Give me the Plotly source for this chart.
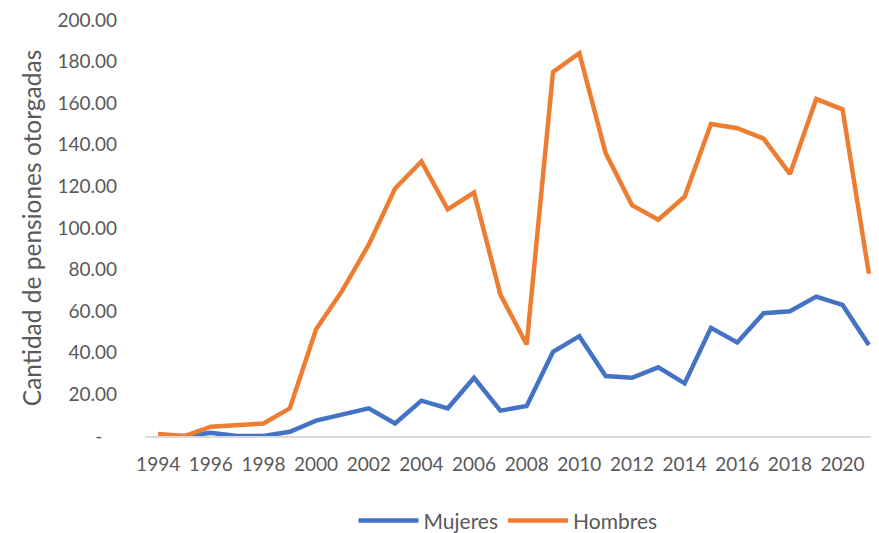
import plotly.graph_objects as go

years = list(range(1994, 2022))
mujeres = [0, 0, 1.5, 0, 0, 2, 7.4, 10.5, 13.3, 6, 17, 13.3, 28, 12.2, 14.4,
           40.5, 48, 28.8, 28, 33, 25.3, 52, 45, 59, 60, 67, 63, 43.8]
hombres = [1, 0, 4.5, 5.3, 6, 13.3, 51.3, 70, 92, 119, 132, 109, 117, 68, 44,
           175, 184, 136, 111, 104, 115, 150, 148, 143, 126, 162, 157, 78]

x_ticks = list(range(1994, 2021, 2))
y_ticks = list(range(0, 201, 20))
y_text = ["-\u00a0\u00a0\u00a0"] + [f"{v:.2f}" for v in y_ticks[1:]]

FONT = "Lato, 'Open Sans', sans-serif"
GREY = "#595959"

fig = go.Figure()
fig.add_trace(go.Scatter(x=years, y=mujeres, name="Mujeres", mode="lines",
                         line=dict(color="#4472C4", width=4.5)))
fig.add_trace(go.Scatter(x=years, y=hombres, name="Hombres", mode="lines",
                         line=dict(color="#ED7D31", width=4.5)))

fig.update_layout(
    width=863, height=525,
    margin=dict(l=137, r=0, t=12, b=97, autoexpand=False),
    paper_bgcolor="white", plot_bgcolor="white",
    font=dict(family=FONT, color=GREY, size=19),
    showlegend=True,
    legend=dict(orientation="h", x=0.5, xanchor="center", y=-0.204, yanchor="middle",
                font=dict(size=21, color=GREY), itemwidth=60),
    xaxis=dict(range=[1993.5, 2021.08], tickvals=x_ticks, ticktext=[str(t) for t in x_ticks],
               showgrid=False, showline=True, linecolor="#d9d9d9", linewidth=2,
               ticks="", zeroline=False, ticklabelstandoff=10, automargin=False,
               tickfont=dict(size=19, color=GREY)),
    yaxis=dict(range=[0, 200], tickvals=y_ticks, ticktext=y_text,
               showgrid=False, showline=False, zeroline=False, ticks="",
               ticklabelstandoff=27, ticklabeloverflow="allow", automargin=False,
               tickfont=dict(size=19, color=GREY),
               title=dict(text="Cantidad de pensiones otorgadas", standoff=8,
                          font=dict(size=24.5, color=GREY))),
)

fig.write_html("out.html")
